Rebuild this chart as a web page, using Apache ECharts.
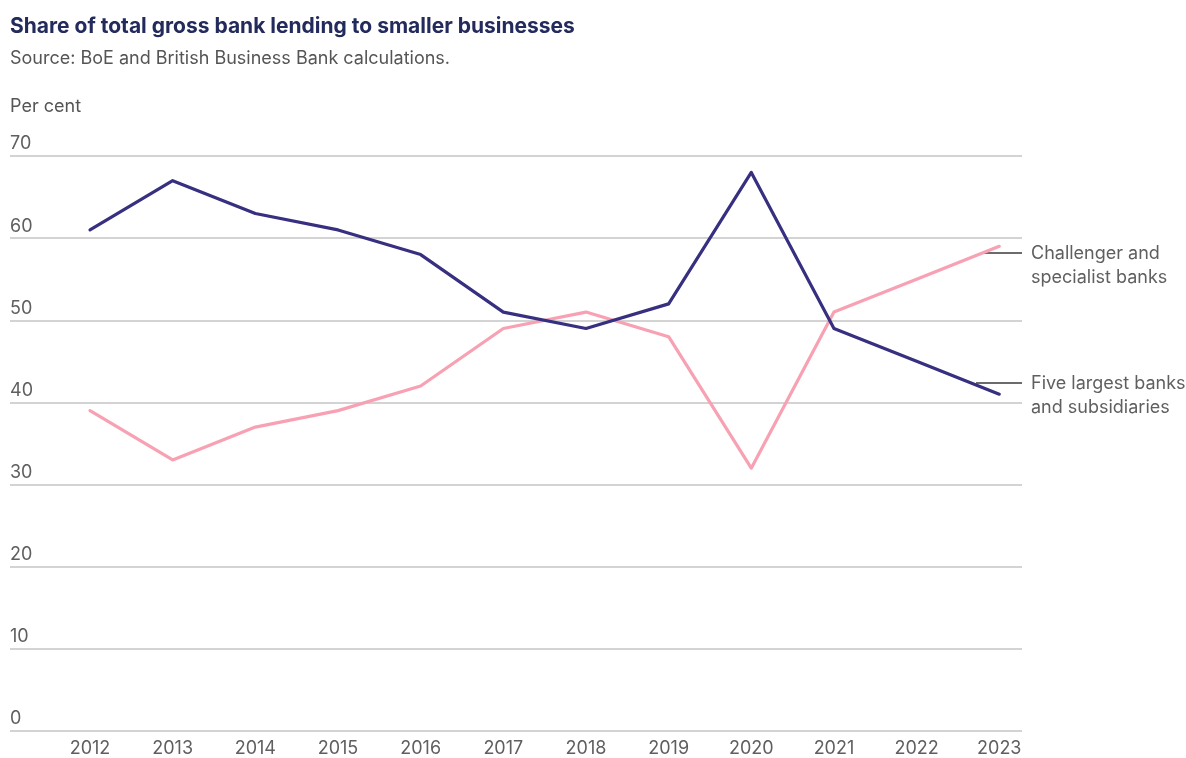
<!DOCTYPE html>
<html>
<head>
<meta charset="utf-8">
<script src="https://cdn.jsdelivr.net/npm/echarts@6/dist/echarts.min.js"></script>
<style>
  html, body { margin: 0; padding: 0; background: #fff; }
  #chart { width: 1186px; height: 758px; }
</style>
</head>
<body>
<div id="chart"></div>
<script>
// 数据
const years = [2012, 2013, 2014, 2015, 2016, 2017, 2018, 2019, 2020, 2021, 2022, 2023];
const fiveLargest = [61, 67, 63, 61, 58, 51, 49, 52, 68, 49, 45, 41];
const challenger = [39, 33, 37, 39, 42, 49, 51, 48, 32, 51, 55, 59];
const yTicks = [0, 10, 20, 30, 40, 50, 60, 70];

const chart = echarts.init(document.getElementById('chart'));
const font = 'Inter, "Noto Sans", sans-serif';
const textGrey = '#5f5f5f';

const option = {
  animation: false,
  textStyle: { fontFamily: font },
  grid: { left: 10, right: 164, top: 156, bottom: 27 },
  xAxis: {
    type: 'value',
    min: 2011.032,
    max: 2023.275,
    axisLine: { show: false },
    axisTick: { show: false },
    splitLine: { show: false },
    axisLabel: {
      customValues: years,
      formatter: v => String(v),
      color: textGrey,
      fontSize: 18,
      margin: 9,
      fontFamily: font
    }
  },
  yAxis: {
    type: 'value',
    min: 0,
    max: 70,
    interval: 10,
    axisLine: { show: false },
    axisTick: { show: false },
    splitLine: { lineStyle: { color: '#c4c4c4', width: 1.5 } },
    axisLabel: {
      inside: true,
      align: 'left',
      verticalAlign: 'bottom',
      margin: 0,
      padding: [0, 0, 3, 0],
      color: textGrey,
      fontSize: 18,
      fontFamily: font,
      formatter: v => (yTicks.includes(v) ? String(v) : '')
    }
  },
  series: [
    {
      name: 'Five largest banks and subsidiaries',
      type: 'line',
      data: years.map((y, i) => [y, fiveLargest[i]]),
      symbol: 'none',
      lineStyle: { color: '#372f7f', width: 3.2, cap: 'round', join: 'round' },
      z: 3
    },
    {
      name: 'Challenger and specialist banks',
      type: 'line',
      data: years.map((y, i) => [y, challenger[i]]),
      symbol: 'none',
      lineStyle: { color: '#f7a1b3', width: 3.2, cap: 'round', join: 'round' },
      z: 2
    }
  ],
  graphic: [
    {
      type: 'text', left: 10, top: 16,
      style: { text: 'Share of total gross bank lending to smaller businesses', fill: '#232a5c', font: 'bold 21px ' + font }
    },
    {
      type: 'text', left: 10, top: 50,
      style: { text: 'Source: BoE and British Business Bank calculations.', fill: '#555', font: '18px ' + font }
    },
    {
      type: 'text', left: 10, top: 98,
      style: { text: 'Per cent', fill: '#555', font: '18px ' + font }
    },
    {
      type: 'line', shape: { x1: 982, y1: 253, x2: 1022, y2: 253 },
      style: { stroke: '#3a3a3a', lineWidth: 1.3 }
    },
    {
      type: 'text', left: 1031, top: 242,
      style: { text: 'Challenger and\nspecialist banks', fill: textGrey, font: '18px ' + font, lineHeight: 24 }
    },
    {
      type: 'line', shape: { x1: 976, y1: 383, x2: 1022, y2: 383 },
      style: { stroke: '#3a3a3a', lineWidth: 1.3 }
    },
    {
      type: 'text', left: 1031, top: 372,
      style: { text: 'Five largest banks\nand subsidiaries', fill: textGrey, font: '18px ' + font, lineHeight: 24 }
    }
  ]
};

chart.setOption(option);
</script>
</body>
</html>
